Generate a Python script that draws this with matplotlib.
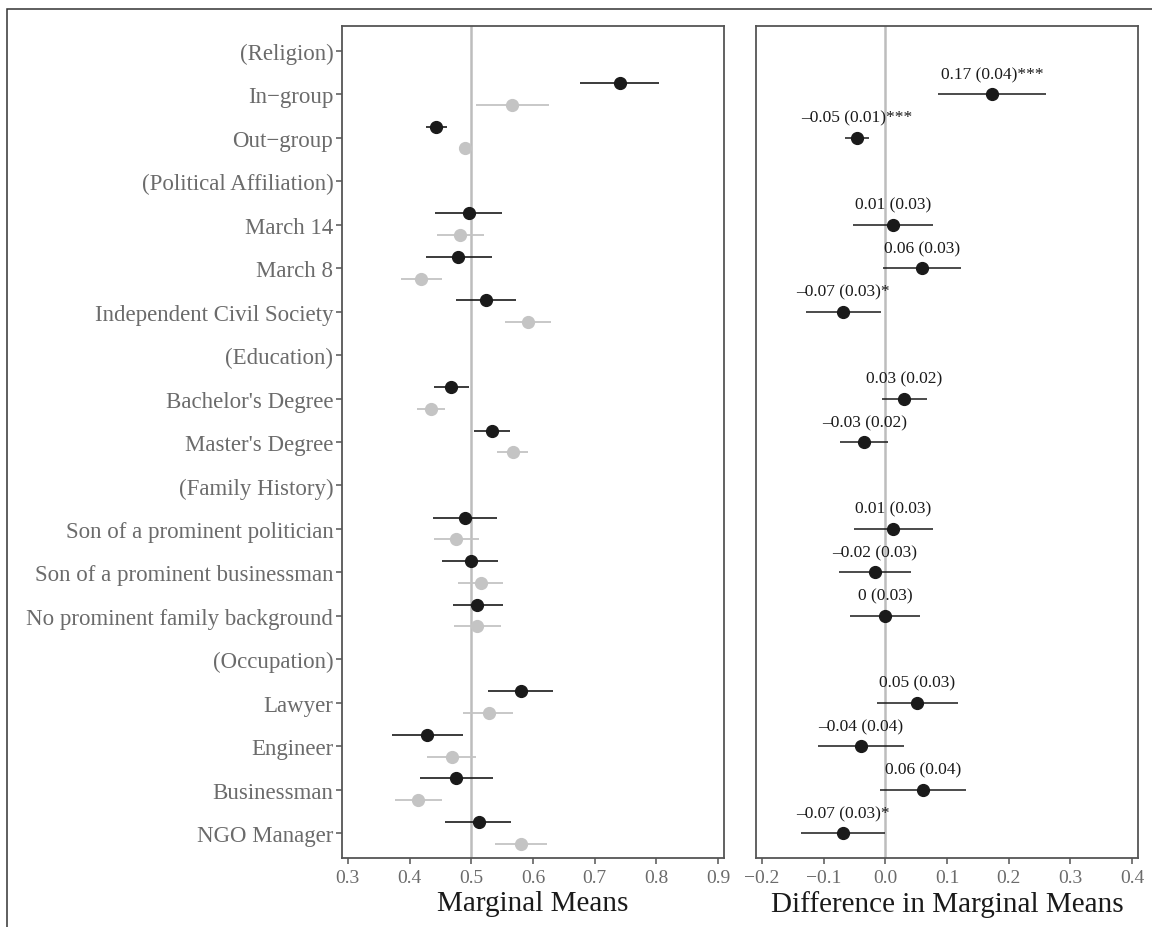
import numpy as np
import matplotlib
matplotlib.use("Agg")
import matplotlib.pyplot as plt
from matplotlib.patches import Rectangle

plt.rcParams['font.family'] = ['Liberation Serif', 'DejaVu Serif']

labels = ["(Religion)", "In\u2212group", "Out\u2212group", "(Political Affiliation)",
          "March 14", "March 8", "Independent Civil Society", "(Education)",
          "Bachelor's Degree", "Master's Degree", "(Family History)",
          "Son of a prominent politician", "Son of a prominent businessman",
          "No prominent family background", "(Occupation)", "Lawyer", "Engineer",
          "Businessman", "NGO Manager"]

nan = np.nan
# Group shown in black
black_est = [nan, 0.741, 0.443, nan, 0.496, 0.479, 0.524, nan, 0.467, 0.533, nan,
             0.489, 0.499, 0.510, nan, 0.580, 0.428, 0.476, 0.512]
black_lo = [nan, 0.676, 0.427, nan, 0.442, 0.426, 0.476, nan, 0.439, 0.504, nan,
            0.438, 0.453, 0.470, nan, 0.527, 0.372, 0.417, 0.458]
black_hi = [nan, 0.804, 0.460, nan, 0.549, 0.533, 0.573, nan, 0.496, 0.563, nan,
            0.541, 0.544, 0.552, nan, 0.633, 0.487, 0.535, 0.565]
# Group shown in grey
grey_est = [nan, 0.566, 0.489, nan, 0.482, 0.419, 0.592, nan, 0.435, 0.567, nan,
            0.475, 0.515, 0.509, nan, 0.528, 0.469, 0.414, 0.580]
grey_lo = [nan, 0.507, 0.484, nan, 0.445, 0.386, 0.555, nan, 0.412, 0.542, nan,
           0.439, 0.479, 0.472, nan, 0.487, 0.428, 0.376, 0.539]
grey_hi = [nan, 0.626, 0.494, nan, 0.521, 0.453, 0.629, nan, 0.458, 0.592, nan,
           0.512, 0.551, 0.548, nan, 0.567, 0.508, 0.452, 0.622]
# Differences
diff_est = [nan, 0.173, -0.046, nan, 0.012, 0.059, -0.068, nan, 0.031, -0.034, nan,
            0.013, -0.017, 0.000, nan, 0.052, -0.040, 0.061, -0.069]
diff_lo = [nan, 0.086, -0.065, nan, -0.052, -0.004, -0.128, nan, -0.005, -0.073, nan,
           -0.050, -0.075, -0.057, nan, -0.014, -0.109, -0.009, -0.136]
diff_hi = [nan, 0.260, -0.027, nan, 0.077, 0.122, -0.007, nan, 0.068, 0.005, nan,
           0.077, 0.041, 0.056, nan, 0.118, 0.030, 0.131, -0.001]
diff_txt = ["", "0.17 (0.04)***", "\u20130.05 (0.01)***", "", "0.01 (0.03)", "0.06 (0.03)",
            "\u20130.07 (0.03)*", "", "0.03 (0.02)", "\u20130.03 (0.02)", "",
            "0.01 (0.03)", "\u20130.02 (0.03)", "0 (0.03)", "", "0.05 (0.03)",
            "\u20130.04 (0.04)", "0.06 (0.04)", "\u20130.07 (0.03)*"]

left_ticks = [0.3, 0.4, 0.5, 0.6, 0.7, 0.8, 0.9]
right_ticks = [-0.2, -0.1, 0.0, 0.1, 0.2, 0.3, 0.4]

W, H = 1152, 928
fig = plt.figure(figsize=(W / 100, H / 100), dpi=100)

# partial outer frame
fig.patches.append(Rectangle((7 / W, -0.1), 1.2, (H - 10) / H + 0.1, transform=fig.transFigure,
                             fill=False, edgecolor='#333333', linewidth=1.1))

ax1 = fig.add_axes([341.7 / W, (H - 859.3) / H, 382.6 / W, 832.6 / H])
ax2 = fig.add_axes([755.7 / W, (H - 859.3) / H, 382.6 / W, 832.6 / H])

y = np.arange(len(labels))
tick_col = '#6b6b6b'
border_col = '#555555'
blk = '#1a1a1a'
gry = '#c4c4c4'

for ax in (ax1, ax2):
    for s in ax.spines.values():
        s.set_color(border_col)
        s.set_linewidth(1.3)
    ax.set_ylim(len(labels) - 0.42, -0.58)
    ax.tick_params(axis='both', colors=border_col, labelcolor=tick_col,
                   length=4.5, width=1.1)
    ax.tick_params(axis='x', labelsize=14, pad=3)
ax1.tick_params(axis='y', labelsize=16.5, pad=1.5)

ax1.axvline(0.5, color='#bdbdbd', lw=1.8, zorder=1)
ax2.axvline(0.0, color='#bdbdbd', lw=1.8, zorder=1)

be = np.array(black_est); bl = np.array(black_lo); bh = np.array(black_hi)
ge = np.array(grey_est); gl = np.array(grey_lo); gh = np.array(grey_hi)
yb = y - 0.26
yg = y + 0.24
ax1.hlines(yg, gl, gh, color=gry, lw=1.3, zorder=2)
ax1.plot(ge, yg, 'o', color=gry, ms=8.5, zorder=3)
ax1.hlines(yb, bl, bh, color=blk, lw=1.2, zorder=4)
ax1.plot(be, yb, 'o', color=blk, ms=8.5, zorder=5)

ax1.set_xlim(0.29, 0.91)
ax1.set_xticks(left_ticks)
ax1.set_xticklabels([f"{t:.1f}" for t in left_ticks])
ax1.set_yticks(y)
ax1.set_yticklabels(labels)
ax1.set_xlabel("Marginal Means", fontsize=21, color=blk, labelpad=3)

de = np.array(diff_est); dl = np.array(diff_lo); dh = np.array(diff_hi)
ax2.hlines(y, dl, dh, color=blk, lw=1.1, zorder=4)
ax2.plot(de, y, 'o', color=blk, ms=8.5, zorder=5)
for yi, xi, t in zip(y, de, diff_txt):
    if t:
        ax2.text(xi, yi - 0.37, t, ha='center', va='baseline', fontsize=12.5, color=blk, zorder=6)

ax2.set_xlim(-0.21, 0.41)
ax2.set_xticks(right_ticks)
ax2.set_xticklabels([f"{t:.1f}".replace('-', '\u2212') for t in right_ticks])
ax2.set_yticks([])
ax2.set_xlabel("Difference in Marginal Means", fontsize=21, color=blk, labelpad=3)

fig.savefig("out.png", dpi=100)
